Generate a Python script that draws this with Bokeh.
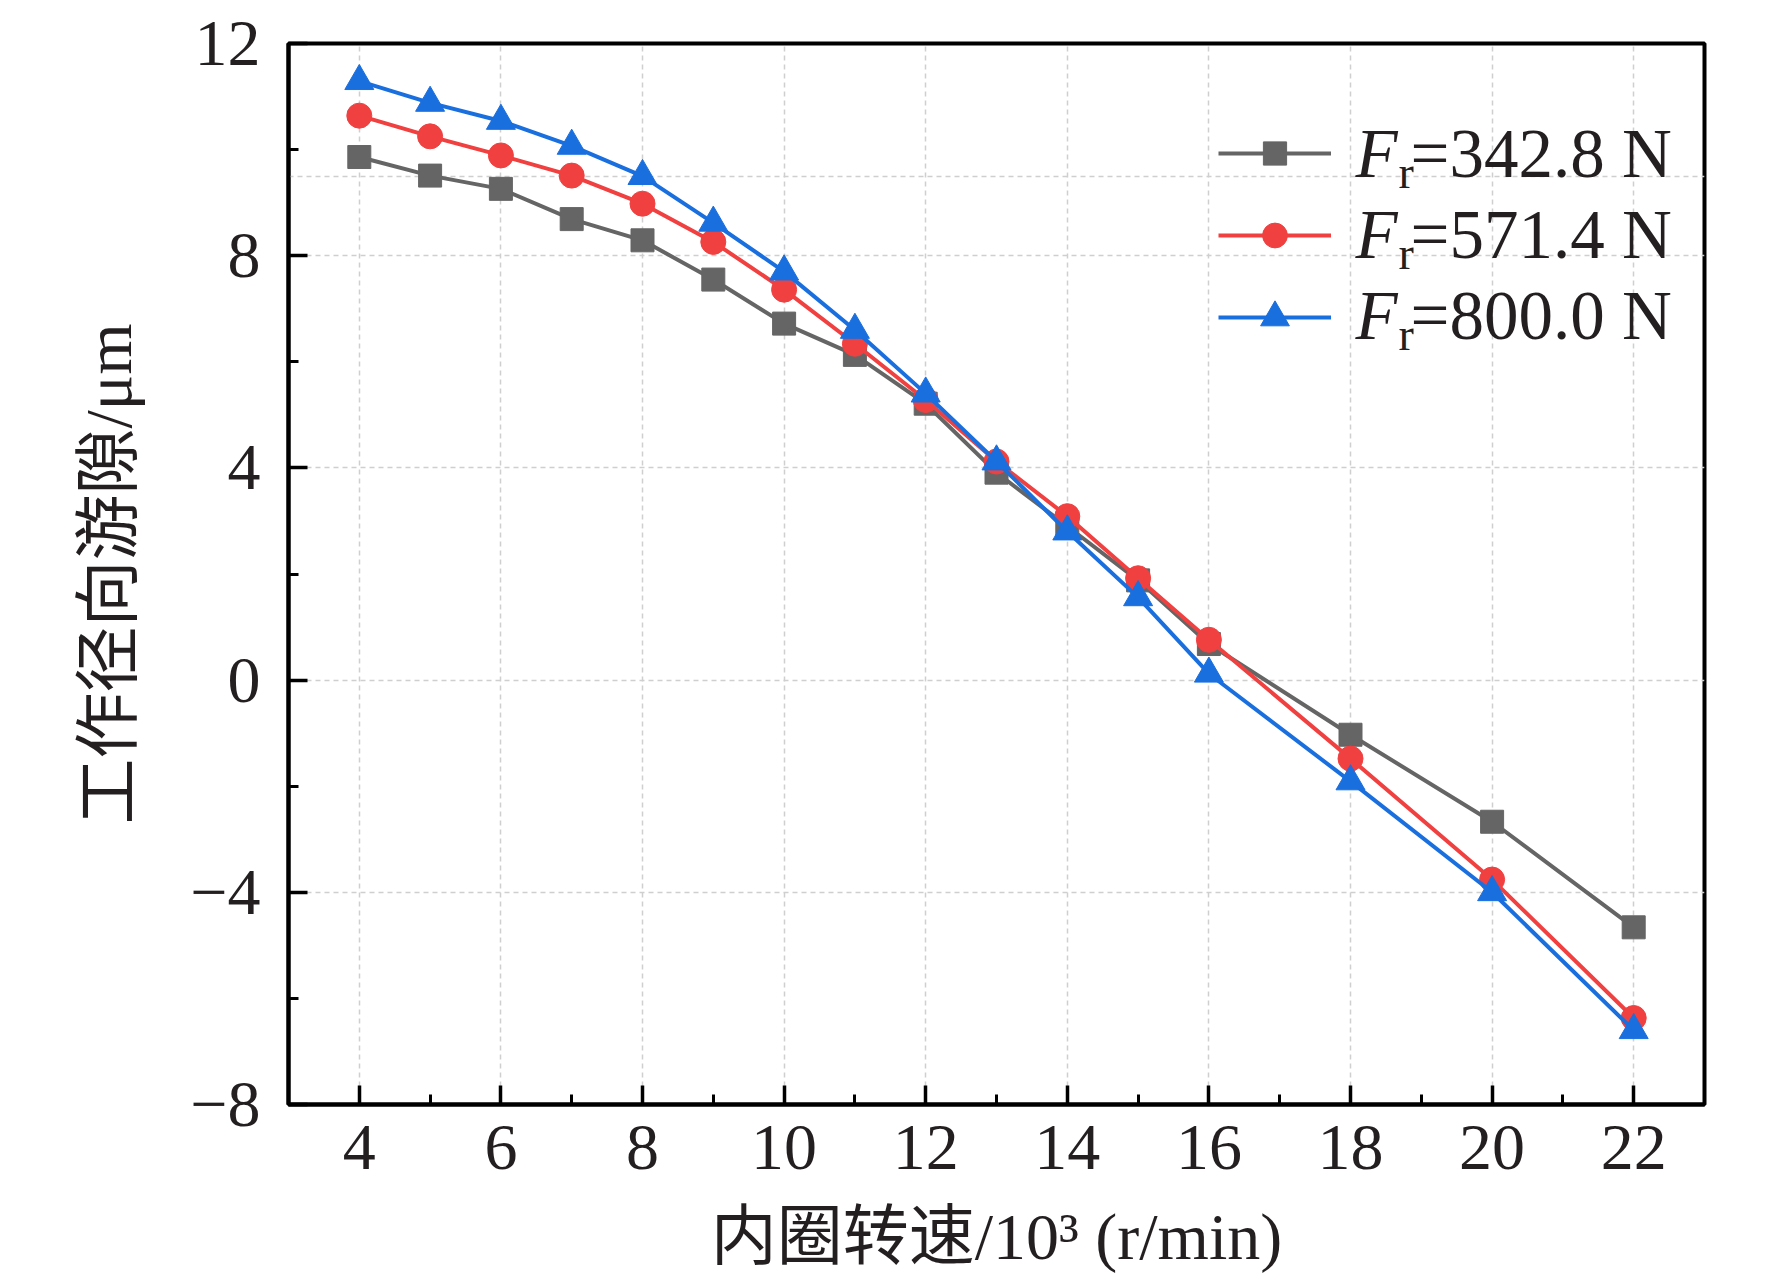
from bokeh.plotting import figure
from bokeh.models import (Range1d, SingleIntervalTicker, FixedTicker, Legend,
                          LegendItem, Label, ColumnDataSource)
from bokeh.embed import file_html
from bokeh.resources import INLINE

# ---------------- data ----------------
speed = [4, 5, 6, 7, 8, 9, 10, 11, 12, 13, 14, 15, 16, 18, 20, 22]
fr_342 = [9.86, 9.51, 9.26, 8.69, 8.29, 7.55, 6.72, 6.13, 5.21, 3.91, 2.90, 1.88, 0.68, -1.03, -2.67, -4.66]
fr_571 = [10.64, 10.25, 9.89, 9.51, 8.98, 8.26, 7.36, 6.34, 5.28, 4.12, 3.09, 1.92, 0.76, -1.48, -3.76, -6.37]
fr_800 = [11.29, 10.88, 10.54, 10.07, 9.50, 8.62, 7.70, 6.60, 5.40, 4.12, 2.80, 1.56, 0.12, -1.91, -4.00, -6.60]
series_text = ["=342.8 N", "=571.4 N", "=800.0 N"]
y_tick_text = {-8: "\u22128", -4: "\u22124"}
y_grid_lines = [-8, -4, 0, 4, 8, 9.5, 12]
x_title = "内圈转速/10³ (r/min)"
y_title = "工作径向游隙/μm"

GRAY, RED, BLUE = "#656565", "#F04040", "#1A6FDF"
TXT = "#231f20"
SERIF = "Liberation Serif"
MIXED = "'Liberation Serif', 'Noto Sans CJK SC'"

FW, FH = 1416, 1061
p = figure(frame_width=FW, frame_height=FH,
           x_range=Range1d(3, 23), y_range=Range1d(-8, 12),
           output_backend="svg", toolbar_location=None,
           min_border_left=288, min_border_top=43, min_border_right=56,
           min_border_bottom=10, background_fill_color="white",
           border_fill_color="white")

p.outline_line_color = "black"
p.outline_line_width = 4
p.outline_line_alpha = 1

p.xaxis.ticker = SingleIntervalTicker(interval=2, num_minor_ticks=2)
p.yaxis.ticker = SingleIntervalTicker(interval=4, num_minor_ticks=2)
p.yaxis.major_label_overrides = y_tick_text
p.ygrid.ticker = FixedTicker(ticks=y_grid_lines)

for g in (p.xgrid, p.ygrid):
    g.grid_line_color = "#cfcfcf"
    g.grid_line_width = 1.5
    g.grid_line_dash = "5 4"

for ax in (p.xaxis[0], p.yaxis[0]):
    ax.axis_line_width = 4
    ax.axis_line_color = "black"
    ax.major_tick_in = 19
    ax.major_tick_out = 0
    ax.minor_tick_in = 10
    ax.minor_tick_out = 0
    ax.major_tick_line_width = 3.5
    ax.minor_tick_line_width = 3
    ax.major_tick_line_color = "black"
    ax.minor_tick_line_color = "black"
    ax.major_label_text_font = SERIF
    ax.major_label_text_font_size = "66px"
    ax.major_label_text_color = TXT
    ax.axis_label_text_font = MIXED
    ax.axis_label_text_font_size = "66px"
    ax.axis_label_text_font_style = "normal"
    ax.axis_label_text_color = TXT

p.xaxis.axis_label = x_title
p.yaxis.axis_label = y_title
p.xaxis.major_label_standoff = 21
p.xaxis.axis_label_standoff = 28
p.yaxis.major_label_standoff = 28
p.yaxis.axis_label_standoff = 42

src = ColumnDataSource(dict(speed=speed, fr_342=fr_342, fr_571=fr_571, fr_800=fr_800))

specs = [("fr_342", GRAY, "square", 23),
         ("fr_571", RED, "circle", 25),
         ("fr_800", BLUE, "triangle", 29)]
rends = []
for col, c, mk, sz in specs:
    rl = p.line("speed", col, source=src, line_color=c, line_width=4)
    rm = p.scatter("speed", col, source=src, marker=mk, size=sz,
                   fill_color=c, line_color=c, line_width=1)
    rends.append((rl, rm, sz))

# legend: glyph samples (one legend per row so marker sizes match)
row_centers = [110, 192, 274]      # px below frame top
for (rl, rm, sz), yc in zip(rends, row_centers):
    H = int(round(sz / 0.4))
    leg = Legend(items=[LegendItem(label=" ", renderers=[rl, rm])],
                 location=(930, FH - (yc + H / 2)),
                 glyph_width=113, glyph_height=H, label_height=0,
                 label_width=0, label_standoff=0, padding=0, spacing=0,
                 margin=0, label_text_font_size="1px",
                 border_line_alpha=0, background_fill_alpha=0)
    p.add_layout(leg)

# legend texts: italic F, subscript r, value
baselines = [951, 870, 789]        # px above frame bottom
for txt, b in zip(series_text, baselines):
    p.add_layout(Label(x=1067, y=b, x_units="screen", y_units="screen", text="F",
                       text_font=SERIF, text_font_size="69px", text_font_style="italic",
                       text_color=TXT, text_baseline="alphabetic"))
    p.add_layout(Label(x=1110, y=b - 19, x_units="screen", y_units="screen", text="r",
                       text_font=SERIF, text_font_size="46px",
                       text_color=TXT, text_baseline="alphabetic"))
    p.add_layout(Label(x=1122, y=b, x_units="screen", y_units="screen", text=txt,
                       text_font=SERIF, text_font_size="69px",
                       text_color=TXT, text_baseline="alphabetic"))

open("out.html", "w").write(file_html(p, INLINE))
